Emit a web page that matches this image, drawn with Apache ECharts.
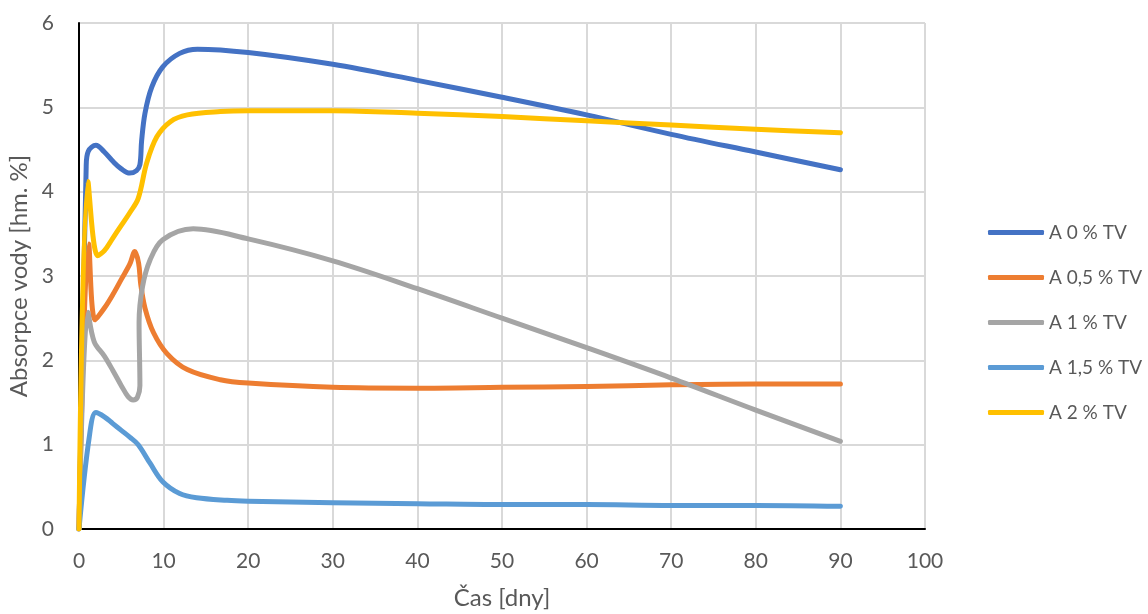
<!DOCTYPE html>
<html>
<head>
<meta charset="utf-8">
<script src="https://cdn.jsdelivr.net/npm/echarts@6/dist/echarts.min.js"></script>
<style>
  html, body { margin: 0; padding: 0; background: #fff; }
  #chart { width: 1148px; height: 614px; }
</style>
</head>
<body>
<div id="chart"></div>
<script>
// values: [day, absorption %]
const names = ['A 0 % TV', 'A 0,5 % TV', 'A 1 % TV', 'A 1,5 % TV', 'A 2 % TV'];
const colors = ['#4472C4', '#ED7D31', '#A5A5A5', '#5B9BD5', '#FFC000'];

const a0 = [[0, 0], [0.85, 4.3], [1.1, 4.48], [2, 4.55], [3, 4.47], [4, 4.36], [5, 4.27], [6, 4.22],
  [6.8, 4.25], [7.2, 4.32], [7.4, 4.6], [7.8, 4.93], [8.6, 5.24], [9.9, 5.48], [11.9, 5.64], [14, 5.69],
  [20, 5.65], [30, 5.51], [40, 5.32], [50, 5.12], [60, 4.91], [70, 4.68], [80, 4.47], [90, 4.26]];

const a05 = [[0, 0], [1.15, 3.38], [1.9, 2.48], [3, 2.62], [4, 2.78], [5, 2.96], [6, 3.14], [6.6, 3.29],
  [7.05, 3.15], [7.3, 2.9], [7.8, 2.62], [8.8, 2.33], [10.4, 2.08], [12.8, 1.89], [16.7, 1.77], [20, 1.73],
  [30, 1.68], [40, 1.67], [50, 1.68], [60, 1.69], [70, 1.71], [80, 1.72], [90, 1.72]];

const a1 = [[0, 0], [1.05, 2.57], [1.8, 2.22], [3, 2.05], [4, 1.88], [5, 1.7], [5.8, 1.57], [6.4, 1.53],
  [6.9, 1.56], [7.2, 1.7], [7.1, 2.45], [7.5, 2.87], [8.4, 3.19], [9.9, 3.43], [13.5, 3.56], [20, 3.44],
  [30, 3.18], [40, 2.85], [50, 2.5], [60, 2.15], [70, 1.79], [80, 1.41], [90, 1.04]];

const a15 = [[0, 0], [1.2, 1.08], [2, 1.38], [3, 1.33], [4, 1.25], [5, 1.17], [6, 1.09], [7, 1.0],
  [8.4, 0.78], [9.9, 0.56], [11.9, 0.42], [13.9, 0.37], [17.5, 0.34], [20, 0.33], [30, 0.31], [40, 0.3],
  [50, 0.29], [60, 0.29], [70, 0.28], [80, 0.28], [90, 0.27]];

const a2 = [[0, 0], [1.05, 4.12], [2.2, 3.24], [3, 3.3], [4, 3.45], [5, 3.6], [6, 3.75], [7, 3.92],
  [8, 4.34], [9.2, 4.65], [10.8, 4.83], [12.8, 4.91], [16.7, 4.95], [20, 4.96], [30, 4.96], [40, 4.93],
  [50, 4.89], [60, 4.84], [70, 4.79], [80, 4.74], [90, 4.70]];

const allData = [a0, a05, a1, a15, a2];

const chart = echarts.init(document.getElementById('chart'));
const font = 'Lato, "Noto Sans", sans-serif';

const option = {
  animation: false,
  textStyle: { fontFamily: font },
  grid: { left: 79, right: 223, top: 23, bottom: 85, outerBoundsMode: 'none', containLabel: false },
  legend: {
    orient: 'vertical',
    left: 983,
    top: 217,
    icon: 'roundRect',
    itemWidth: 56,
    itemHeight: 5,
    itemGap: 24,
    textStyle: { fontSize: 19, lineHeight: 21, color: '#595959', fontFamily: font },
    data: names
  },
  xAxis: {
    type: 'value',
    min: 0, max: 100, interval: 10,
    name: 'Čas [dny]',
    nameLocation: 'middle',
    nameGap: 57,
    nameTextStyle: { fontSize: 24, color: '#595959' },
    axisLine: { lineStyle: { color: '#000', width: 2 } },
    axisTick: { show: false },
    axisLabel: { fontSize: 21, color: '#595959', margin: 22 },
    splitLine: { show: true, lineStyle: { color: '#d9d9d9', width: 2 } }
  },
  yAxis: {
    type: 'value',
    min: 0, max: 6, interval: 1,
    name: 'Absorpce vody [hm. %]',
    nameLocation: 'middle',
    nameGap: 45,
    nameTextStyle: { fontSize: 24, color: '#595959' },
    axisLine: { show: true, lineStyle: { color: '#000', width: 2 } },
    axisTick: { show: false },
    axisLabel: { fontSize: 21, color: '#595959', margin: 25 },
    splitLine: { show: true, lineStyle: { color: '#d9d9d9', width: 2 } }
  },
  series: allData.map((d, i) => ({
    name: names[i],
    type: 'line',
    data: d,
    smooth: 0.35,
    symbol: 'none',
    color: colors[i],
    lineStyle: { width: 5, color: colors[i], cap: 'round', join: 'round' }
  }))
};

chart.setOption(option);
</script>
</body>
</html>
